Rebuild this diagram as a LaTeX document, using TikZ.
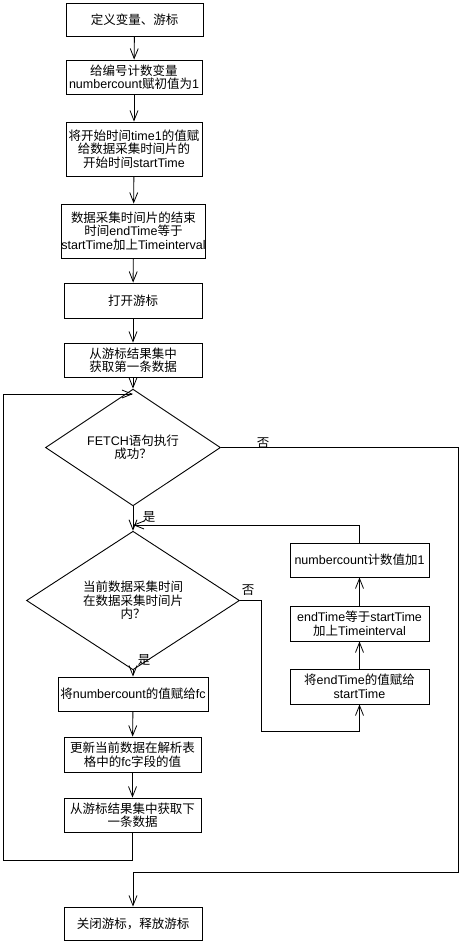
\documentclass[tikz,border=0pt]{standalone}
\usepackage{fontspec}
\setmainfont{Noto Sans CJK SC}
\newfontfamily\lat{Liberation Sans}
\newcommand{\LT}[1]{{\lat #1}}
\usetikzlibrary{arrows.meta,shapes.geometric}
\begin{document}
\begin{tikzpicture}[x=1pt,y=-1pt,
  every node/.style={font=\fontsize{12.5}{13.5}\selectfont},
  box/.style={draw,line width=0.9pt,rectangle,inner sep=0pt,align=center},
  dec/.style={draw,line width=0.9pt,diamond,inner sep=0pt,align=center},
  lbl/.style={inner sep=0pt},
  arr/.style={line width=0.9pt,-{Straight Barb[length=10pt,width=8pt,line width=0.8pt]}},
  ln/.style={line width=0.9pt}]
\useasboundingbox (0,0) rectangle (461,943);
\node[box,minimum width=137pt,minimum height=33pt] (b1) at (134.5,19.5) {定义变量、游标};
\node[box,minimum width=136pt,minimum height=34pt] (b2) at (134,77) {给编号计数变量\\\LT{numbercount}赋初值为\LT{1}};
\node[box,minimum width=136pt,minimum height=54pt] (b3) at (134,149) {将开始时间\LT{time1}的值赋\\给数据采集时间片的\\开始时间\LT{startTime}};
\node[box,minimum width=137pt,minimum height=54pt] (b4) at (133.5,231) {数据采集时间片的结束\\时间\LT{endTime}等于\\\LT{startTime}加上\LT{Timeinterval}};
\node[box,minimum width=138pt,minimum height=35pt] (b5) at (133,300.5) {打开游标};
\node[box,minimum width=138pt,minimum height=34pt] (b6) at (133,360) {从游标结果集中\\获取第一条数据};
\node[dec,minimum width=175pt,minimum height=71pt] (d1) at (133,447.5) {\LT{FETCH}语句执行\\成功？};
\node[dec,minimum width=213pt,minimum height=93pt] (d2) at (133,600.5) {当前数据采集时间\\在数据采集时间片\\内？};
\node[box,minimum width=139pt,minimum height=34pt] (r1) at (359.5,560) {\LT{numbercount}计数值加\LT{1}};
\node[box,minimum width=139pt,minimum height=35pt] (r2) at (359.5,623.5) {\LT{endTime}等于\LT{startTime}\\加上\LT{Timeinterval}};
\node[box,minimum width=139pt,minimum height=35pt] (r3) at (359.5,686.5) {将\LT{endTime}的值赋给\\\LT{startTime}};
\node[box,minimum width=150pt,minimum height=34pt] (l1) at (133,694) {将\LT{numbercount}的值赋给\LT{fc}};
\node[box,minimum width=137pt,minimum height=35pt] (l2) at (132.5,754.5) {更新当前数据在解析表\\格中的\LT{fc}字段的值};
\node[box,minimum width=137pt,minimum height=34pt] (l3) at (132.5,815) {从游标结果集中获取下\\一条数据};
\node[box,minimum width=138pt,minimum height=33pt] (b7) at (133,923.5) {关闭游标，释放游标};
\coordinate (j1) at (133,394);
\coordinate (j2) at (133,525);
\draw[arr] (b1) -- (b2);
\draw[arr] (b2) -- (b3);
\draw[arr] (b3) -- (b4);
\draw[arr] (b4) -- (b5);
\draw[arr] (b5) -- (b6);
\draw[arr] (b6) -- (d1);
\draw[arr] (l3.south) -- (132.5,860) -- (3,860) -- (3,394) -- (j1);
\draw[arr] (d1.east) -- (458,447.5) -- (458,872) -- (133,872) -- (b7.north);
\draw[arr] (d1) -- (d2);
\draw[arr] (r1.north) -- (359.5,525) -- (j2);
\draw[arr] (d2.east) -- (261,600.5) -- (261,731) -- (359.5,731) -- (r3.south);
\draw[arr] (r3) -- (r2);
\draw[arr] (r2) -- (r1);
\draw[arr] (d2) -- (l1);
\draw[arr] (l1) -- (l2);
\draw[arr] (l2) -- (l3);
\node[lbl] (n1) at (263,443) {否};
\node[lbl] (y1) at (149,517) {是};
\node[lbl] (n2) at (248,590) {否};
\node[lbl] (y2) at (144,660) {是};
\end{tikzpicture}
\end{document}
